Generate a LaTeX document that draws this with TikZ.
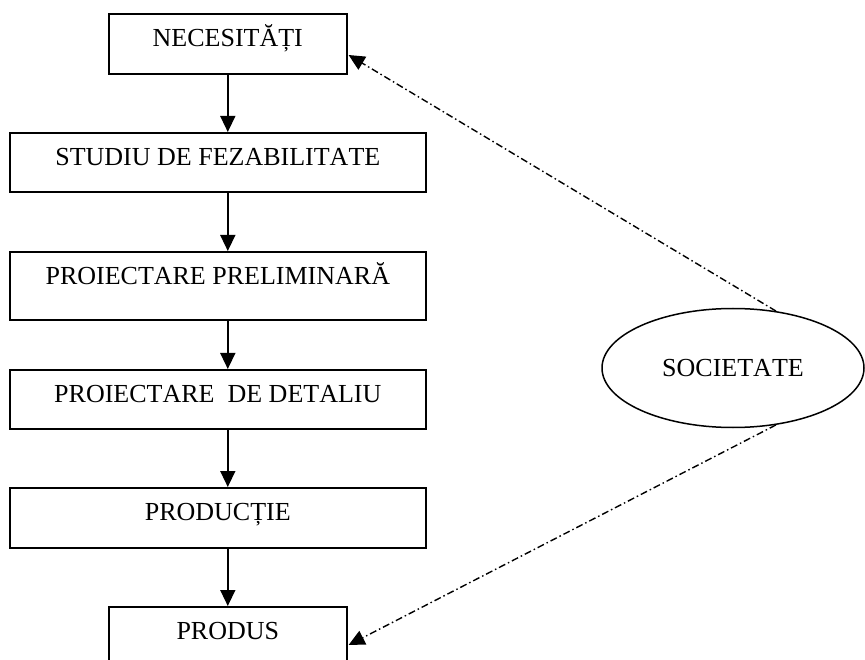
\documentclass[tikz,border=0pt]{standalone}
\usepackage{fontspec}
\setmainfont{Liberation Serif}[Kerning=Off]
\usetikzlibrary{arrows.meta,shapes.geometric,calc}

\tikzset{
  stepbox/.style={draw, line width=1.6pt, rectangle, anchor=north west,
    inner sep=0pt, text height=33pt, align=center,
    font=\fontsize{26}{30}\selectfont},
  flow/.style={line width=1.5pt, -{Triangle[length=16pt,width=15pt]}},
  feedback/.style={line width=1.4pt,
    dash pattern=on 7pt off 3pt on 1.5pt off 3pt,
    -{Triangle[length=16pt,width=15pt]}},
}

\begin{document}
\begin{tikzpicture}[x=1pt,y=-1pt]
  \clip (0,0) rectangle (865,660);
  \fill[white] (0,0) rectangle (865,660);

  % process chain
  \node[stepbox, minimum width=238pt, text depth=27pt] (nec) at (108,13) {NECESITĂȚI};
  \node[stepbox, minimum width=416pt, text depth=26pt] (stu) at (9,132) {STUDIU DE FEZABILITATE};
  \node[stepbox, minimum width=416pt, text depth=35pt] (pre) at (9,251) {PROIECTARE PRELIMINARĂ};
  \node[stepbox, minimum width=416pt, text depth=26pt] (det) at (9,369) {PROIECTARE~~DE DETALIU};
  \node[stepbox, minimum width=416pt, text depth=27pt] (prd) at (9,487) {PRODUCȚIE};
  \node[stepbox, minimum width=238pt, text depth=27pt] (pds) at (108,606) {PRODUS};

  % society
  \node[draw, ellipse, line width=1.5pt, minimum width=262pt, minimum height=119pt,
        inner sep=0pt, font=\fontsize{26}{30}\selectfont] (soc) at (733,368) {SOCIETATE};

  % downward flow
  \draw[flow] (nec.south) -- (nec.south |- stu.north);
  \draw[flow] (nec.south |- stu.south) -- (nec.south |- pre.north);
  \draw[flow] (nec.south |- pre.south) -- (nec.south |- det.north);
  \draw[flow] (nec.south |- det.south) -- (nec.south |- prd.north);
  \draw[flow] (nec.south |- prd.south) -- (pds.north);

  % feedback from society
  \draw[feedback] (soc.53) -- ([xshift=1pt,yshift=-42pt]nec.north east);
  \draw[feedback] (soc.-53) -- ([xshift=1pt,yshift=-39pt]pds.north east);
\end{tikzpicture}
\end{document}
